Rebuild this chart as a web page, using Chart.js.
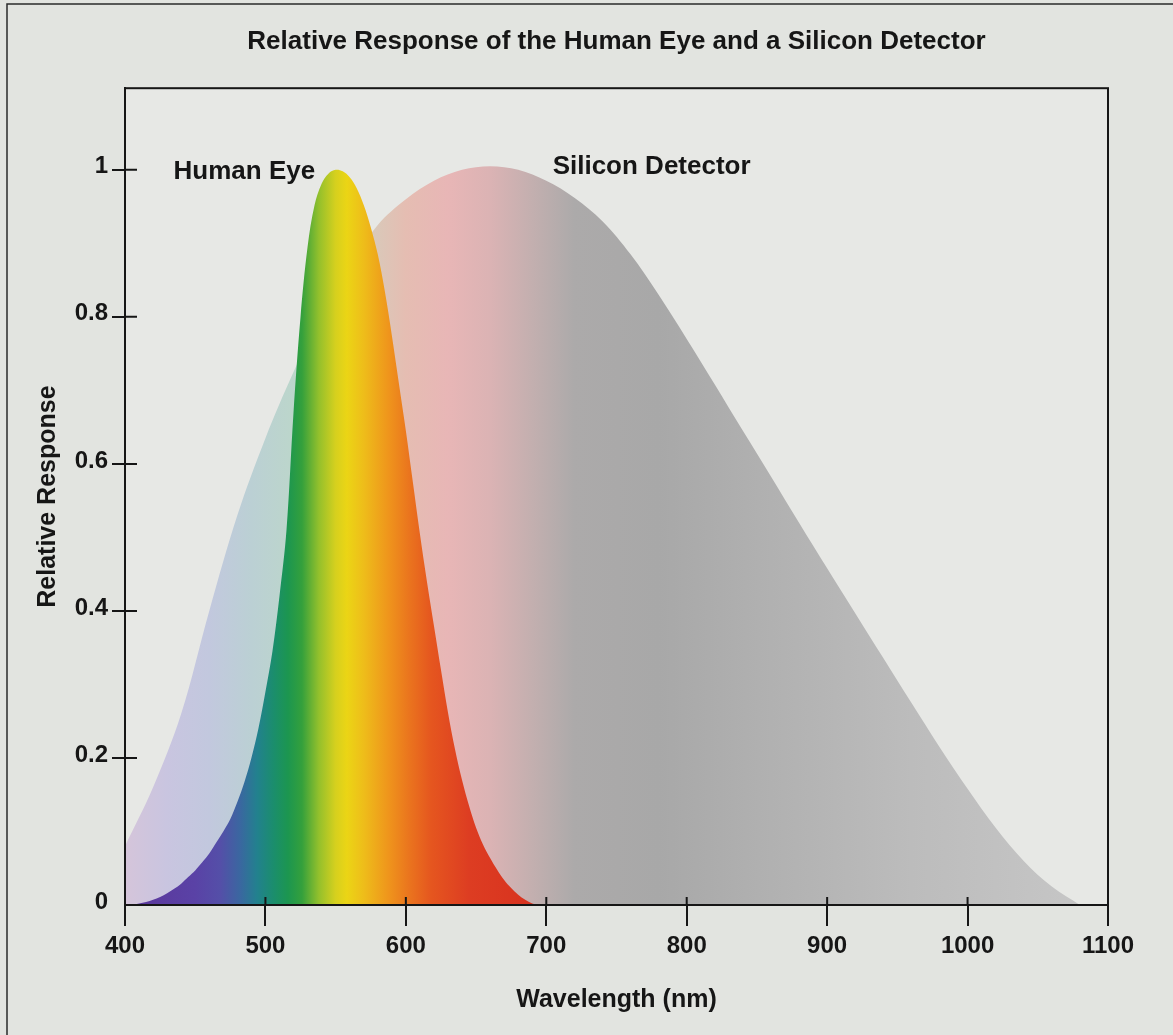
<!DOCTYPE html>
<html>
<head>
<meta charset="utf-8">
<script src="https://cdn.jsdelivr.net/npm/chart.js@4.4.0/dist/chart.umd.min.js"></script>
<style>
  html, body { margin: 0; padding: 0; background: #e3e5e1; }
  #wrap { width: 1173px; height: 1035px; }
</style>
</head>
<body>
<div id="wrap"><canvas id="responseChart" width="1173" height="1035"></canvas></div>
<script>
// Values (wavelength in nm, relative response 0..1)
const eyeWavelength = [400, 405, 410, 415, 420, 425, 430, 435, 440, 445, 450, 455, 460, 465, 470, 475, 480, 485, 490, 495, 500, 505, 510, 515, 520, 525, 530, 535, 540, 545, 550, 555, 560, 565, 570, 575, 580, 585, 590, 595, 600, 605, 610, 615, 620, 625, 630, 635, 640, 645, 650, 655, 660, 665, 670, 675, 680, 685, 690, 695];
const eyeResponse   = [0, 0, 0.002, 0.004, 0.007, 0.011, 0.016, 0.022, 0.029, 0.038, 0.047, 0.058, 0.07, 0.085, 0.1, 0.117, 0.14, 0.167, 0.2, 0.24, 0.29, 0.345, 0.42, 0.51, 0.67, 0.8, 0.895, 0.952, 0.981, 0.995, 1.0, 0.998, 0.99, 0.975, 0.952, 0.922, 0.885, 0.835, 0.775, 0.71, 0.645, 0.575, 0.505, 0.44, 0.38, 0.32, 0.262, 0.212, 0.17, 0.135, 0.105, 0.082, 0.064, 0.048, 0.034, 0.023, 0.014, 0.007, 0.002, 0];

const siliconWavelength = [400, 420, 440, 460, 480, 500, 520, 540, 560, 580, 600, 620, 640, 660, 680, 700, 720, 740, 760, 780, 800, 820, 840, 860, 880, 900, 920, 940, 960, 980, 1000, 1020, 1040, 1060, 1080];
const siliconResponse   = [0.08, 0.16, 0.26, 0.4, 0.53, 0.635, 0.725, 0.805, 0.87, 0.925, 0.96, 0.985, 1.0, 1.005, 1.0, 0.985, 0.962, 0.93, 0.885, 0.83, 0.77, 0.708, 0.645, 0.583, 0.52, 0.458, 0.397, 0.336, 0.275, 0.215, 0.158, 0.105, 0.06, 0.025, 0];

const xTicks = [400, 500, 600, 700, 800, 900, 1000, 1100];
const yTicks = [0, 0.2, 0.4, 0.6, 0.8, 1];
const seriesNames = ['Human Eye', 'Silicon Detector'];

const chartTitle = 'Relative Response of the Human Eye and a Silicon Detector';
const xTitle = 'Wavelength (nm)';
const yTitle = 'Relative Response';

// where the two curve names sit (in data units)
const nameSpots = [{ nm: 485, value: 0.997 }, { nm: 775, value: 1.004 }];

// colour stops along the wavelength axis
const eyeSpectrum = [
  [420, '#5b3a9e'], [450, '#5a42a6'], [468, '#544fa8'], [482, '#3a67a0'], [494, '#22818e'],
  [506, '#1b8e6c'], [516, '#1c9650'], [526, '#34a03c'], [538, '#93c02c'], [550, '#d6d01e'],
  [558, '#ebd515'], [570, '#eebd1a'], [588, '#ef941c'], [603, '#ea731e'], [618, '#e5561f'],
  [645, '#dd3d22'], [690, '#d8321f']
];
const siliconSpectrum = [
  [400, '#d5c5da'], [430, '#c9c5e0'], [460, '#c2c8de'], [490, '#bbd0d4'], [520, '#bcd6cb'],
  [560, '#d0d2bf'], [600, '#e5bdb2'], [630, '#e8b6b6'], [660, '#dbb3b4'], [690, '#c3afaf'],
  [720, '#acaaaa'], [780, '#a8a8a8'], [860, '#b1b1b1'], [960, '#bcbcbc'], [1080, '#c6c6c6']
];

const FONT = '"Liberation Sans", Arial, Helvetica, sans-serif';
const INK = '#161616';

function spectrumFill(stops) {
  return (c) => {
    const chart = c.chart;
    const area = chart.chartArea;
    if (!area) return 'transparent';
    const xs = chart.scales.x;
    const g = chart.ctx.createLinearGradient(area.left, 0, area.right, 0);
    const w = area.right - area.left;
    stops.forEach(([nm, col]) => {
      const p = (xs.getPixelForValue(nm) - area.left) / w;
      g.addColorStop(Math.min(1, Math.max(0, p)), col);
    });
    return g;
  };
}

const toPoints = (xs, ys) => xs.map((x, i) => ({ x: x, y: ys[i] }));

const pageBackground = {
  id: 'pageBackground',
  beforeDraw(chart) {
    const { ctx, width, height, chartArea: a } = chart;
    ctx.save();
    ctx.fillStyle = '#e2e4e0';
    ctx.fillRect(0, 0, width, height);
    ctx.fillStyle = '#e7e8e5';
    ctx.fillRect(a.left, a.top, a.right - a.left, a.bottom - a.top);
    // outer figure frame
    ctx.strokeStyle = '#2a2a2a';
    ctx.lineWidth = 1.5;
    ctx.beginPath();
    ctx.moveTo(7, height);
    ctx.lineTo(7, 4);
    ctx.lineTo(width, 4);
    ctx.stroke();
    ctx.restore();
  }
};

const frameAndTicks = {
  id: 'frameAndTicks',
  afterDraw(chart) {
    const { ctx, chartArea: a, scales: { x, y } } = chart;
    ctx.save();
    ctx.strokeStyle = INK;
    ctx.lineWidth = 2;
    ctx.strokeRect(a.left, a.top, a.right - a.left, a.bottom - a.top);
    // inner half of each tick mark
    ctx.beginPath();
    y.ticks.forEach(t => {
      if (t.value === 0) return;
      const py = y.getPixelForValue(t.value);
      ctx.moveTo(a.left, py);
      ctx.lineTo(a.left + 12, py);
    });
    x.ticks.forEach(t => {
      const px = x.getPixelForValue(t.value);
      ctx.moveTo(px, a.bottom);
      ctx.lineTo(px, a.bottom - 8);
    });
    ctx.stroke();
    ctx.restore();
  }
};

const curveNames = {
  id: 'curveNames',
  afterDatasetsDraw(chart) {
    const { ctx, scales: { x, y } } = chart;
    ctx.save();
    ctx.font = 'bold 26px ' + FONT;
    ctx.fillStyle = INK;
    ctx.textAlign = 'center';
    ctx.textBaseline = 'middle';
    nameSpots.forEach((s, i) => {
      ctx.fillText(seriesNames[i], x.getPixelForValue(s.nm), y.getPixelForValue(s.value));
    });
    ctx.restore();
  }
};

new Chart(document.getElementById('responseChart'), {
  type: 'line',
  data: {
    datasets: [
      {
        label: seriesNames[0],
        data: toPoints(eyeWavelength, eyeResponse),
        order: 0,
        fill: 'origin',
        backgroundColor: spectrumFill(eyeSpectrum),
        borderWidth: 0,
        borderColor: 'rgba(0,0,0,0)',
        pointRadius: 0,
        tension: 0.35
      },
      {
        label: seriesNames[1],
        data: toPoints(siliconWavelength, siliconResponse),
        order: 1,
        fill: 'origin',
        backgroundColor: spectrumFill(siliconSpectrum),
        borderWidth: 0,
        borderColor: 'rgba(0,0,0,0)',
        pointRadius: 0,
        tension: 0.35
      }
    ]
  },
  options: {
    responsive: false,
    devicePixelRatio: 1,
    animation: false,
    layout: { padding: { left: 0, right: 65, top: 0, bottom: 0 } },
    plugins: {
      legend: { display: false },
      tooltip: { enabled: false },
      title: {
        display: true,
        fullSize: false,
        text: chartTitle,
        color: INK,
        font: { family: FONT, size: 26, weight: 'bold' },
        padding: { top: 26, bottom: 31 }
      }
    },
    scales: {
      x: {
        type: 'linear',
        min: 400,
        max: 1100,
        afterBuildTicks: s => { s.ticks = xTicks.map(v => ({ value: v })); },
        afterFit: s => { s.height = 130; },
        ticks: {
          color: INK,
          padding: 6,
          maxRotation: 0,
          font: { family: FONT, size: 24, weight: 'bold' },
          callback: v => String(v)
        },
        grid: { drawOnChartArea: false, drawTicks: true, tickLength: 21, color: INK, lineWidth: 2 },
        border: { display: true, color: INK, width: 2 },
        title: {
          display: true,
          text: xTitle,
          color: INK,
          font: { family: FONT, size: 25, weight: 'bold' },
          padding: { top: 0, bottom: 20 }
        }
      },
      y: {
        type: 'linear',
        min: 0,
        max: 1.111,
        afterBuildTicks: s => { s.ticks = yTicks.map(v => ({ value: v })); },
        afterFit: s => { s.width = 125; },
        ticks: {
          color: INK,
          padding: 4,
          labelOffset: -3,
          font: { family: FONT, size: 24, weight: 'bold' },
          callback: v => (v === 0 || v === 1) ? String(v) : v.toFixed(1)
        },
        grid: {
          drawOnChartArea: false,
          drawTicks: true,
          tickLength: 13,
          lineWidth: 2,
          color: c => (c.tick && c.tick.value === 0) ? 'rgba(0,0,0,0)' : INK
        },
        border: { display: true, color: INK, width: 2 },
        title: {
          display: true,
          text: yTitle,
          color: INK,
          font: { family: FONT, size: 25, weight: 'bold' },
          padding: { top: 33, bottom: 0 }
        }
      }
    }
  },
  plugins: [pageBackground, frameAndTicks, curveNames]
});
</script>
</body>
</html>
